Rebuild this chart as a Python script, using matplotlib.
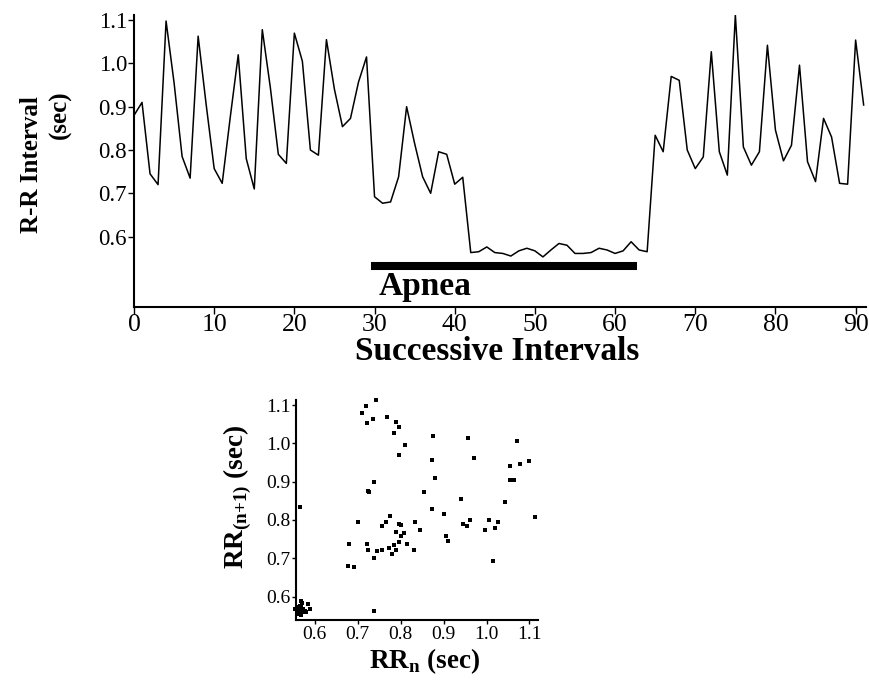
import matplotlib
matplotlib.use("Agg")
import matplotlib.pyplot as plt

plt.rcParams['font.family'] = ['Liberation Serif', 'DejaVu Serif']
plt.rcParams['mathtext.fontset'] = 'custom'
plt.rcParams['mathtext.rm'] = 'Liberation Serif'
plt.rcParams['mathtext.bf'] = 'Liberation Serif:bold'

# R-R intervals (sec), successive beats 0..91
rr = [0.88, 0.91, 0.745, 0.72, 1.098, 0.955, 0.785, 0.735, 1.063, 0.905,
      0.757, 0.723, 0.875, 1.02, 0.78, 0.71, 1.078, 0.945, 0.79, 0.769,
      1.07, 1.005, 0.80, 0.788, 1.055, 0.94, 0.854, 0.873, 0.957, 1.015,
      0.692, 0.677, 0.68, 0.738, 0.90, 0.815, 0.738, 0.70, 0.796, 0.79,
      0.721, 0.737, 0.563, 0.565, 0.576, 0.563, 0.561, 0.555, 0.567, 0.573,
      0.567, 0.553, 0.569, 0.584, 0.58, 0.561, 0.561, 0.563, 0.573, 0.569,
      0.561, 0.567, 0.588, 0.569, 0.565, 0.834, 0.796, 0.97, 0.961, 0.80,
      0.757, 0.784, 1.027, 0.796, 0.742, 1.112, 0.807, 0.765, 0.796, 1.042,
      0.846, 0.775, 0.811, 0.996, 0.773, 0.727, 0.873, 0.83, 0.723, 0.721,
      1.054, 0.904]
beat = list(range(len(rr)))

apnea_start = 29.55
apnea_end = 62.7
apnea_level = 0.532

top_yticks = [0.6, 0.7, 0.8, 0.9, 1.0, 1.1]
top_xticks = [0, 10, 20, 30, 40, 50, 60, 70, 80, 90]
sc_ticks = [0.6, 0.7, 0.8, 0.9, 1.0, 1.1]

# Poincare pairs: RR(n) vs RR(n+1)
rr_n = rr[:-1]
rr_n1 = rr[1:]

fig = plt.figure(figsize=(8.69, 6.8), dpi=100)

# --- top: tachogram
ax = fig.add_axes([0.1542, 0.549, 0.8424, 0.429])
ax.plot(beat, rr, color='black', lw=1.1)
ax.plot([apnea_start, apnea_end], [apnea_level, apnea_level],
        color='black', lw=5.8, solid_capstyle='butt')
ax.text(36.3, 0.484, 'Apnea', fontsize=24,
        fontweight='bold', ha='center', va='center')
ax.set_xlim(0, 91.3)
ax.set_ylim(0.438, 1.112)
ax.set_yticks(top_yticks)
ax.set_yticklabels([f'{v:.1f}' for v in top_yticks])
ax.set_xticks(top_xticks)
ax.tick_params(axis='y', labelsize=16.5, length=4, width=1, pad=1)
ax.tick_params(axis='x', labelsize=18.5, length=5, width=1, pad=0)
for s in ['top', 'right']:
    ax.spines[s].set_visible(False)
for s in ['left', 'bottom']:
    ax.spines[s].set_linewidth(1.5)

fig.text(31 / 869, 1 - 165 / 680, 'R-R Interval', rotation=90, fontsize=18,
         fontweight='bold', ha='center', va='center')
fig.text(60 / 869, 1 - 115 / 680, '(sec)', rotation=90, fontsize=18,
         fontweight='bold', ha='center', va='center')
fig.text(497 / 869, 1 - 351 / 680, 'Successive Intervals', fontsize=24,
         fontweight='bold', ha='center', va='center')

# --- bottom: return map
ax2 = fig.add_axes([0.3406, 0.0882, 0.2785, 0.3235])
ax2.scatter(rr_n, rr_n1, s=6, color='black', marker='s', linewidths=0,
            clip_on=False)
ax2.set_xlim(0.556, 1.12)
ax2.set_ylim(0.539, 1.113)
ax2.set_xticks(sc_ticks)
ax2.set_yticks(sc_ticks)
ax2.set_xticklabels([f'{v:.1f}' for v in sc_ticks])
ax2.set_yticklabels([f'{v:.1f}' for v in sc_ticks])
ax2.tick_params(labelsize=14, length=3, width=1, pad=1)
for s in ['top', 'right']:
    ax2.spines[s].set_visible(False)
for s in ['left', 'bottom']:
    ax2.spines[s].set_linewidth(1.5)

fig.text(238 / 869, 1 - 497 / 680, r'RR$_{\mathbf{(n{+}1)}}$ (sec)', rotation=90,
         fontsize=19.5, fontweight='bold', ha='center', va='center')
fig.text(425 / 869, 1 - 661 / 680, r'RR$_{\mathbf{n}}$ (sec)',
         fontsize=19.5, fontweight='bold', ha='center', va='center')

fig.savefig('out.png', dpi=100)
